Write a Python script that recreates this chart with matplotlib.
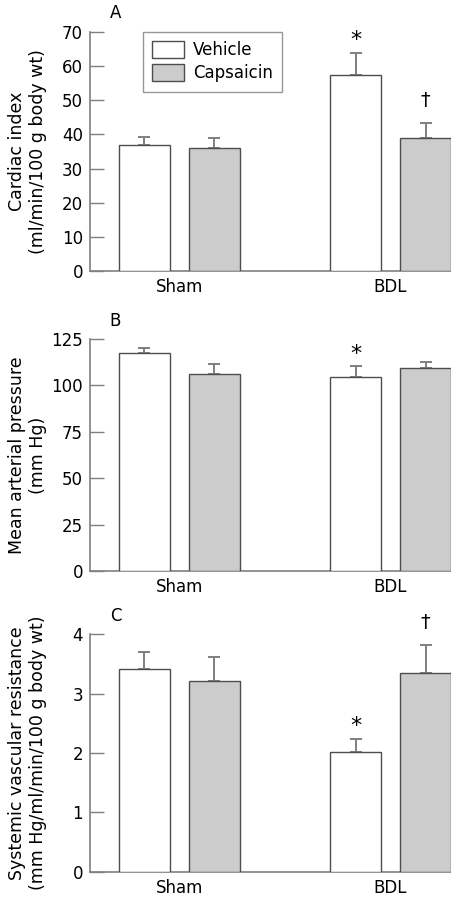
import matplotlib
matplotlib.use("Agg")
import matplotlib.pyplot as plt
from matplotlib.patches import Patch
import numpy as np

plt.rcParams['font.family'] = ['DejaVu Sans']

groups = ["Sham", "BDL"]
series = ["Vehicle", "Capsaicin"]

ci_vehicle = [36.8, 57.5]
ci_vehicle_err = [2.4, 6.3]
ci_caps = [35.9, 38.9]
ci_caps_err = [3.1, 4.4]

map_vehicle = [117.3, 104.4]
map_vehicle_err = [3.0, 5.9]
map_caps = [106.1, 109.6]
map_caps_err = [5.4, 3.2]

svr_vehicle = [3.41, 2.02]
svr_vehicle_err = [0.29, 0.21]
svr_caps = [3.21, 3.34]
svr_caps_err = [0.41, 0.48]

fig = plt.figure(figsize=(4.52, 9.02), dpi=100)

W, H = 452.0, 902.0
def ax_rect(top_px, bottom_px):
    left = 90 / W
    right = 451.5 / W
    return [left, 1 - bottom_px / H, right - left, (bottom_px - top_px) / H]

panels = [
    dict(rect=ax_rect(32, 271), veh=ci_vehicle, veherr=ci_vehicle_err, cap=ci_caps, caperr=ci_caps_err,
         ylim=70, ticks=np.arange(0, 71, 10), ylabel="Cardiac index\n(ml/min/100 g body wt)", letter="A",
         marks=[(1, 0, "*"), (1, 1, "†")]),
    dict(rect=ax_rect(339, 571), veh=map_vehicle, veherr=map_vehicle_err, cap=map_caps, caperr=map_caps_err,
         ylim=125, ticks=np.arange(0, 126, 25), ylabel="Mean arterial pressure\n(mm Hg)", letter="B",
         marks=[(1, 0, "*")]),
    dict(rect=ax_rect(634.3, 871.7), veh=svr_vehicle, veherr=svr_vehicle_err, cap=svr_caps, caperr=svr_caps_err,
         ylim=4, ticks=np.arange(0, 5, 1), ylabel="Systemic vascular resistance\n(mm Hg/ml/min/100 g body wt)", letter="C",
         marks=[(1, 0, "*"), (1, 1, "†")]),
]

x = np.arange(len(groups))
bw = 51 / 211
off = 35 / 211
spine_col = "#7f7f7f"
edge_col = "#4d4d4d"
fill_caps = "#cccccc"
fs = 12

for p in panels:
    ax = fig.add_axes(p["rect"])
    ax.bar(x - off, p["veh"], bw, color="white", edgecolor=edge_col, linewidth=1.0, zorder=3)
    ax.bar(x + off, p["cap"], bw, color=fill_caps, edgecolor=edge_col, linewidth=1.0, zorder=3)
    ax.errorbar(x - off, p["veh"], yerr=[np.zeros(2), p["veherr"]], fmt="none", ecolor=spine_col,
                elinewidth=1.4, capsize=4, capthick=1.4, zorder=2)
    ax.errorbar(x + off, p["cap"], yerr=[np.zeros(2), p["caperr"]], fmt="none", ecolor=spine_col,
                elinewidth=1.4, capsize=4, capthick=1.4, zorder=2)
    ax.set_xlim(-0.424, 1.289)
    ax.set_ylim(0, p["ylim"])
    ax.set_yticks(p["ticks"])
    ax.set_xticks(x)
    ax.set_xticklabels(groups, fontsize=fs)
    ax.tick_params(axis="x", length=0, pad=5)
    ax.tick_params(axis="y", direction="in", length=10, width=1.0, color=spine_col, labelsize=fs, pad=5)
    for s in ["top", "right"]:
        ax.spines[s].set_visible(False)
    for s in ["left", "bottom"]:
        ax.spines[s].set_color(spine_col)
        ax.spines[s].set_linewidth(1.2)
    ax.set_ylabel(p["ylabel"], fontsize=12.5, linespacing=1.2)
    ax.yaxis.label.set_va("center")
    ax.yaxis.set_label_coords(-0.172, 0.5)
    ax.text(-0.33, p["ylim"] * 1.04, p["letter"], fontsize=fs, ha="left", va="bottom", clip_on=False)
    for gi, si, sym in p["marks"]:
        vals = p["veh"] if si == 0 else p["cap"]
        errs = p["veherr"] if si == 0 else p["caperr"]
        xpos = x[gi] - off if si == 0 else x[gi] + off
        if sym == "*":
            ytop = vals[gi] + errs[gi] + p["ylim"] * 0.055
        else:
            ytop = vals[gi] + errs[gi] + p["ylim"] * 0.095
        ax.text(xpos, ytop, sym, ha="center", va="center", fontsize=16 if sym == "*" else 14)
    if p["letter"] == "A":
        handles = [Patch(facecolor="white", edgecolor=edge_col, label="Vehicle"),
                   Patch(facecolor=fill_caps, edgecolor=edge_col, label="Capsaicin")]
        leg = ax.legend(handles=handles, loc="upper left", bbox_to_anchor=((143 - 90) / 361.5, 1.0),
                        fontsize=fs, frameon=True, fancybox=False, edgecolor=spine_col,
                        handlelength=1.9, handleheight=1.2, handletextpad=0.55, labelspacing=0.3,
                        borderpad=0.55, borderaxespad=0.0)
        leg.get_frame().set_linewidth(1.0)

fig.savefig("out.png", dpi=100)
